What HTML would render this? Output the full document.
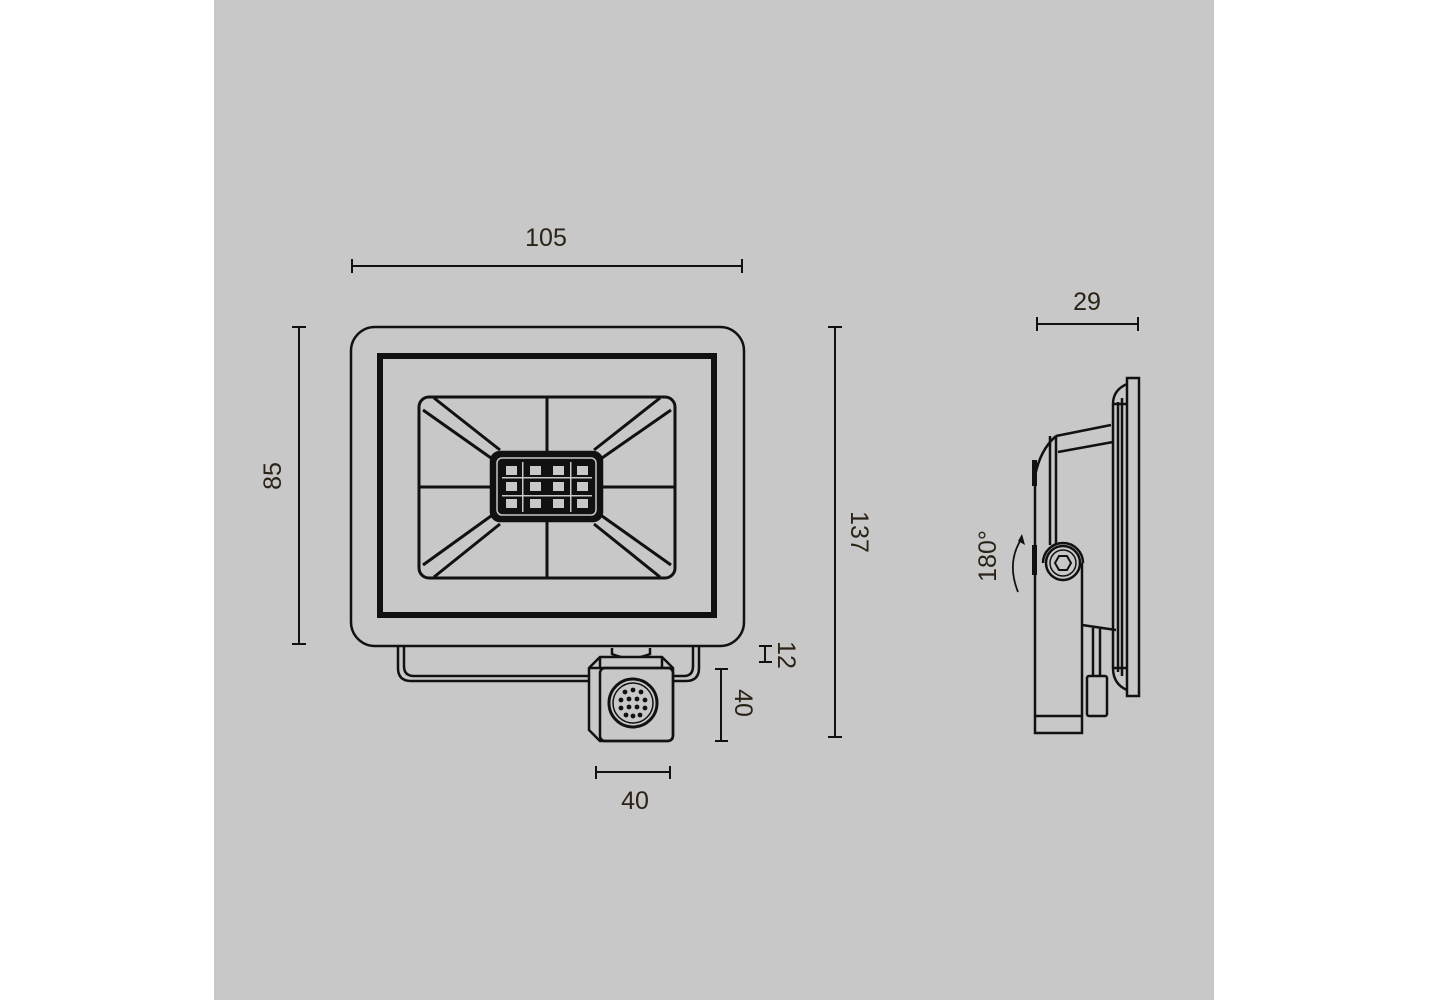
<!DOCTYPE html>
<html><head><meta charset="utf-8"><style>
html,body{margin:0;padding:0;background:#fff;}
svg{display:block;}
text{font-family:"Liberation Sans",sans-serif;font-size:25px;fill:#2a2316;}
</style></head><body>
<svg width="1429" height="1000" viewBox="0 0 1429 1000" xmlns="http://www.w3.org/2000/svg">
<rect x="214" y="0" width="1000" height="1000" fill="#c8c8c8"/>
<g fill="none" stroke="#111" stroke-width="2.5">
<rect x="351" y="327" width="393" height="319" rx="24"/>
<rect x="380" y="356" width="334" height="259" stroke-width="6"/>
<rect x="419" y="397" width="256" height="181" rx="10" stroke-width="3"/>
<line x1="547" y1="397" x2="547" y2="578" stroke-width="3"/>
<line x1="419" y1="487" x2="675" y2="487" stroke-width="3"/>
<path d="M423 410 L491 458 M434 398 L500 450" stroke-width="3"/>
<path d="M671 410 L602 458 M660 398 L594 450" stroke-width="3"/>
<path d="M423 565 L491 516 M434 577 L500 524" stroke-width="3"/>
<path d="M671 565 L602 516 M660 577 L594 524" stroke-width="3"/>
<rect x="491" y="452" width="111" height="69" rx="9" fill="#111" stroke="#111"/>
<rect x="497" y="458" width="99" height="57" rx="5" stroke="#c8c8c8" stroke-width="1.5"/>
</g>
<g fill="#c8c8c8">
<rect x="506" y="466" width="11" height="9"/><rect x="530" y="466" width="11" height="9"/><rect x="553" y="466" width="11" height="9"/><rect x="577" y="466" width="11" height="9"/>
<rect x="506" y="482" width="11" height="9"/><rect x="530" y="482" width="11" height="9"/><rect x="553" y="482" width="11" height="9"/><rect x="577" y="482" width="11" height="9"/>
<rect x="506" y="499" width="11" height="9"/><rect x="530" y="499" width="11" height="9"/><rect x="553" y="499" width="11" height="9"/><rect x="577" y="499" width="11" height="9"/>
<rect x="502" y="477" width="90" height="1.5"/><rect x="502" y="495" width="90" height="1.5"/>
<rect x="522" y="462" width="1.5" height="50"/><rect x="570" y="462" width="1.5" height="50"/>
</g>
<g fill="none" stroke="#111" stroke-width="2.5">
<path d="M398 646 V668 Q398 681 411 681 H588"/>
<path d="M404 646 V666 Q404 676 414 676 H588"/>
<path d="M673 681 H686 Q699 681 699 668 V646"/>
<path d="M673 676 H684 Q693 676 693 666 V646"/>
<path d="M612 648 V654 Q630 662 650 654 V648"/>
<path d="M600 657 H662 L673 668 V735 Q673 741 667 741 H600 L589 730 V668 Z" fill="#c8c8c8"/>
<path d="M600 657 L600 668 M589 668 H673 M662 657 L662 668"/>
<rect x="600" y="668" width="73" height="73" rx="5"/>
<circle cx="633" cy="703" r="24" stroke-width="3"/>
<circle cx="633" cy="703" r="20" stroke-width="1.5"/>
</g>
<g fill="#111">
<circle cx="625" cy="692" r="2.4"/><circle cx="633" cy="690" r="2.4"/><circle cx="641" cy="692" r="2.4"/>
<circle cx="621" cy="700" r="2.4"/><circle cx="629" cy="699" r="2.4"/><circle cx="637" cy="699" r="2.4"/><circle cx="645" cy="700" r="2.4"/>
<circle cx="621" cy="708" r="2.4"/><circle cx="629" cy="707" r="2.4"/><circle cx="637" cy="707" r="2.4"/><circle cx="645" cy="708" r="2.4"/>
<circle cx="626" cy="715" r="2.4"/><circle cx="633" cy="716" r="2.4"/><circle cx="640" cy="715" r="2.4"/>
</g>
<g fill="none" stroke="#111" stroke-width="2">
<path d="M352 266 H742 M352 259 V273 M742 259 V273"/>
<path d="M299 327 V644 M292 327 H306 M292 644 H306"/>
<path d="M835 327 V737 M828 327 H842 M828 737 H842"/>
<path d="M765 646 V662 M759 646 H772 M759 662 H772"/>
<path d="M721 669 V741 M715 669 H728 M715 741 H728"/>
<path d="M596 772 H670 M596 766 V779 M670 766 V779"/>
<path d="M1037 324 H1138 M1037 317 V331 M1138 317 V331"/>
</g>
<text x="546" y="246" text-anchor="middle">105</text>
<text transform="translate(281,476) rotate(-90)" text-anchor="middle">85</text>
<text transform="translate(851,532) rotate(90)" text-anchor="middle">137</text>
<text transform="translate(778,655) rotate(90)" text-anchor="middle">12</text>
<text transform="translate(735,703) rotate(90)" text-anchor="middle">40</text>
<text x="635" y="809" text-anchor="middle">40</text>
<text x="1087" y="310" text-anchor="middle">29</text>
<text transform="translate(996,556) rotate(-90)" text-anchor="middle">180°</text>
<g fill="none" stroke="#111" stroke-width="2.5">
<rect x="1127" y="378" width="12" height="318"/>
<path d="M1127 384 Q1113 390 1113 404 V668 Q1113 684 1127 690"/>
<path d="M1118 402 V672 M1122 398 V676"/>
<path d="M1113 404 H1127 M1113 668 H1127"/>
<path d="M1056 436 L1111 425 M1058 452 L1113 442"/>
<path d="M1035 476 Q1040 450 1056 436"/>
<path d="M1035 476 V733 H1082 V563"/>
<path d="M1050 436 V545 M1056 436 V545"/>
<path d="M1043 563 A20 20 0 0 1 1083 563"/>
<circle cx="1063" cy="563" r="17"/>
<circle cx="1063" cy="563" r="13" stroke-width="1.5"/>
<path d="M1035 716 H1082"/>
<path d="M1082 625 L1116 630"/>
<path d="M1093 628 V676 M1100 629 V676"/>
<rect x="1087" y="676" width="20" height="40" rx="2"/>
<path d="M1018 592 Q1006 562 1022 538" stroke-width="1.8"/>
</g>
<rect x="1032" y="460" width="5" height="26" fill="#111"/>
<rect x="1032" y="545" width="5" height="30" fill="#111"/>
<polygon points="1055,563 1059,556 1067,556 1071,563 1067,570 1059,570" fill="none" stroke="#111" stroke-width="2"/>
<polygon points="1022,534 1025,545 1018,541" fill="#111"/>
</svg>
</body></html>
